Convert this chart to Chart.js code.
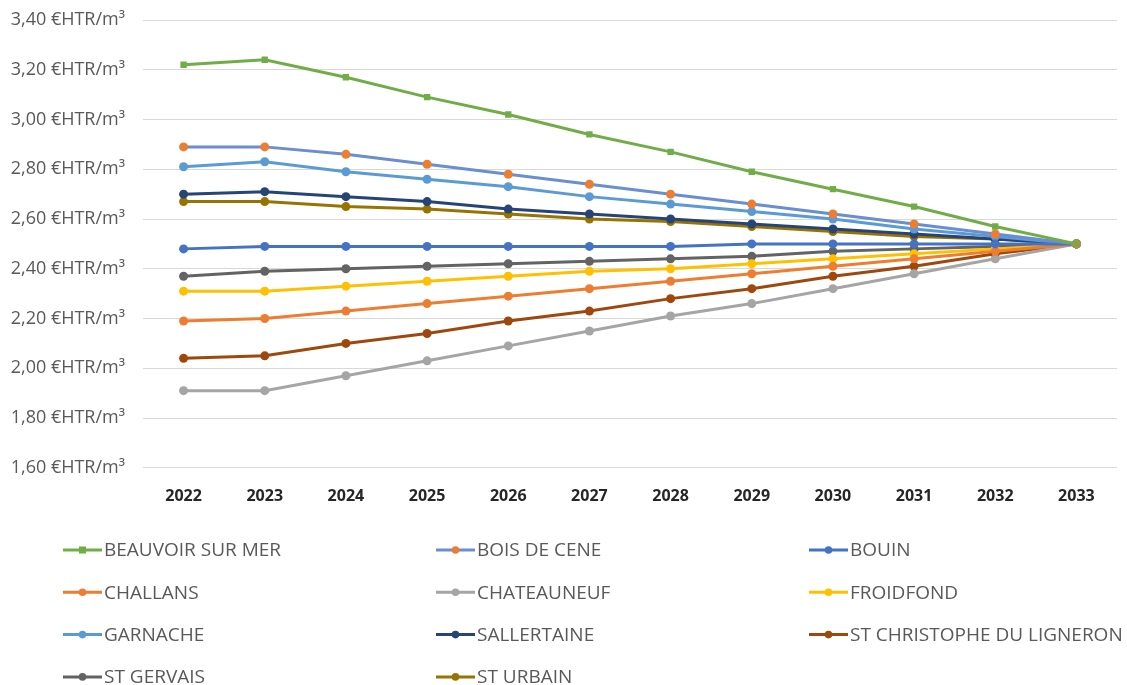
<!DOCTYPE html>
<html>
<head>
<meta charset="utf-8">
<script src="https://cdn.jsdelivr.net/npm/chart.js@4"></script>
<style>
  html, body { margin: 0; padding: 0; background: #fff; }
  #wrap { width: 1127px; height: 685px; position: relative; }
</style>
</head>
<body>
<div id="wrap"><canvas id="prix"></canvas></div>
<script>
// Années (axe X)
const annees = ['2022', '2023', '2024', '2025', '2026', '2027', '2028', '2029', '2030', '2031', '2032', '2033'];

// Prix par commune (€HTR/m³)
const beauvoir     = [3.22, 3.24, 3.17, 3.09, 3.02, 2.94, 2.87, 2.79, 2.72, 2.65, 2.57, 2.50];
const boisDeCene   = [2.89, 2.89, 2.86, 2.82, 2.78, 2.74, 2.70, 2.66, 2.62, 2.58, 2.54, 2.50];
const bouin        = [2.48, 2.49, 2.49, 2.49, 2.49, 2.49, 2.49, 2.50, 2.50, 2.50, 2.50, 2.50];
const challans     = [2.19, 2.20, 2.23, 2.26, 2.29, 2.32, 2.35, 2.38, 2.41, 2.44, 2.47, 2.50];
const chateauneuf  = [1.91, 1.91, 1.97, 2.03, 2.09, 2.15, 2.21, 2.26, 2.32, 2.38, 2.44, 2.50];
const froidfond    = [2.31, 2.31, 2.33, 2.35, 2.37, 2.39, 2.40, 2.42, 2.44, 2.46, 2.48, 2.50];
const garnache     = [2.81, 2.83, 2.79, 2.76, 2.73, 2.69, 2.66, 2.63, 2.60, 2.56, 2.53, 2.50];
const sallertaine  = [2.70, 2.71, 2.69, 2.67, 2.64, 2.62, 2.60, 2.58, 2.56, 2.54, 2.52, 2.50];
const stChristophe = [2.04, 2.05, 2.10, 2.14, 2.19, 2.23, 2.28, 2.32, 2.37, 2.41, 2.46, 2.50];
const stGervais    = [2.37, 2.39, 2.40, 2.41, 2.42, 2.43, 2.44, 2.45, 2.47, 2.48, 2.49, 2.50];
const stUrbain     = [2.67, 2.67, 2.65, 2.64, 2.62, 2.60, 2.59, 2.57, 2.55, 2.53, 2.52, 2.50];

const police = '"Open Sans", "Noto Sans", sans-serif';
const gris = '#595959';

function serie(label, data, couleur, marqueur, forme) {
  return {
    label: label,
    data: data,
    borderColor: couleur,
    backgroundColor: marqueur || couleur,
    pointBackgroundColor: marqueur || couleur,
    pointBorderColor: marqueur || couleur,
    pointStyle: forme || 'circle',
    pointRadius: 4.5,
    pointBorderWidth: 0,
    borderWidth: 3,
    tension: 0
  };
}

const series = [
  serie('BEAUVOIR SUR MER', beauvoir, '#70AD47', null, 'rect'),
  serie('BOIS DE CENE', boisDeCene, '#6A8ED2', '#ED7D31'),
  serie('BOUIN', bouin, '#4472C4'),
  serie('CHALLANS', challans, '#ED7D31'),
  serie('CHATEAUNEUF', chateauneuf, '#A5A5A5'),
  serie('FROIDFOND', froidfond, '#FFC000'),
  serie('GARNACHE', garnache, '#5B9BD5'),
  serie('SALLERTAINE', sallertaine, '#264478'),
  serie('ST CHRISTOPHE DU LIGNERON', stChristophe, '#9E480E'),
  serie('ST GERVAIS', stGervais, '#636363'),
  serie('ST URBAIN', stUrbain, '#997300')
];

// Légende sur 3 colonnes, dessinée sous le graphique
const legendeGrille = {
  id: 'legendeGrille',
  afterDraw(chart) {
    const c = chart.ctx;
    c.save();
    c.font = '19px ' + police;
    c.textBaseline = 'middle';
    chart.data.datasets.forEach((ds, i) => {
      const col = i % 3;
      const ligne = Math.floor(i / 3);
      const x = 63 + col * 373;
      const y = 550 + ligne * 42.3;
      c.strokeStyle = ds.borderColor;
      c.lineWidth = 3;
      c.beginPath();
      c.moveTo(x, y);
      c.lineTo(x + 39, y);
      c.stroke();
      c.fillStyle = ds.pointBackgroundColor;
      if (ds.pointStyle === 'rect') {
        c.fillRect(x + 16, y - 3.5, 7, 7);
      } else {
        c.beginPath();
        c.arc(x + 19.5, y, 3.8, 0, Math.PI * 2);
        c.fill();
      }
      c.fillStyle = gris;
      c.fillText(ds.label, x + 41, y + 1);
    });
    c.restore();
  }
};

new Chart(document.getElementById('prix'), {
  type: 'line',
  data: { labels: annees, datasets: series },
  options: {
    responsive: true,
    maintainAspectRatio: false,
    animation: false,
    layout: { padding: { left: 8, right: 10, top: 20, bottom: 168 } },
    plugins: {
      legend: { display: false },
      tooltip: { enabled: false }
    },
    scales: {
      x: {
        offset: true,
        grid: { display: false },
        border: { display: false },
        ticks: {
          color: '#262626',
          font: { family: police, size: 16, weight: 'bold' },
          padding: 11
        }
      },
      y: {
        min: 1.6,
        max: 3.4,
        grid: { color: '#D9D9D9', lineWidth: 1, drawTicks: false },
        border: { display: false },
        afterFit(scale) {
          scale.width = 135;
          scale.paddingTop = 0;
          scale.paddingBottom = 0;
        },
        ticks: {
          stepSize: 0.2,
          padding: 18,
          color: gris,
          font: { family: police, size: 18 },
          callback: v => v.toFixed(2).replace('.', ',') + ' €HTR/m³'
        }
      }
    }
  },
  plugins: [legendeGrille]
});
</script>
</body>
</html>
